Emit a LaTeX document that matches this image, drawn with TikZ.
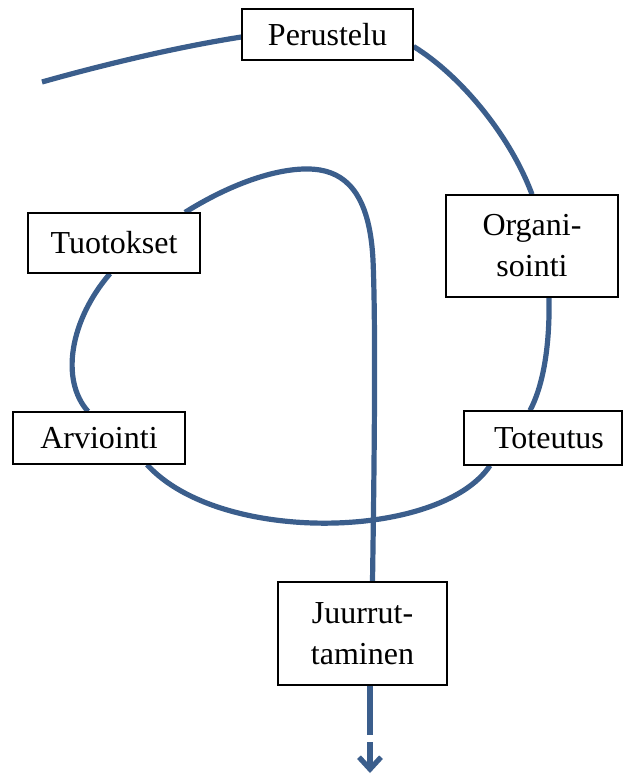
\documentclass[tikz,border=0pt]{standalone}
\usepackage{fontspec}
\setmainfont{Liberation Serif}
\usetikzlibrary{arrows.meta}
\definecolor{loopblue}{RGB}{59,94,140}
\pgfdeclarelayer{background}
\pgfsetlayers{background,main}
\begin{document}
\begin{tikzpicture}[x=0.5pt,y=-0.5pt,
  stage/.style={draw=black, line width=0.6pt, fill=white, inner sep=0pt,
    align=center, font=\fontsize{16}{20.5}\selectfont},
  loopline/.style={draw=loopblue, line width=2.6pt}]
\useasboundingbox (0,0) rectangle (625,775);

% stages
\node[stage, minimum width=85.5pt, minimum height=25.5pt] (perus) at (327.5,34.5) {Perustelu};
\node[stage, minimum width=86pt, minimum height=30pt] (tuot) at (114,243) {Tuotokset};
\node[stage, minimum width=86pt, minimum height=51pt] (org) at (532,246) {Organi-\\sointi};
\node[stage, minimum width=86pt, minimum height=26pt] (arv) at (99,438) {Arviointi};
\node[stage, minimum width=79pt, minimum height=27pt] (tot) at (543,438) {\hspace{6pt}Toteutus};
\node[stage, minimum width=84.5pt, minimum height=51.5pt] (juur) at (362.5,633.5) {Juurrut-\\taminen};

% loose ends of the spiral
\coordinate (start) at (42,82);
\coordinate (peak) at (320,170);
\coordinate (gapTop) at (370,735);
\coordinate (tipStart) at (370,742);
\coordinate (tip) at (370,773);

\begin{pgfonlayer}{background}
\draw[loopline] (start) .. controls (120,60) and (190,45) .. ([yshift=-1.25pt]perus.west);
\draw[loopline] ([yshift=-6pt]perus.east) .. controls (460,75) and (510,135) .. (org.north);
\draw[loopline] ([xshift=8.5pt]org.south) .. controls (550,350) and (542,388) .. ([xshift=-6.5pt]tot.north);
\draw[loopline] ([xshift=-26.5pt]tot.south) .. controls (440,540) and (220,545) .. ([xshift=24pt]arv.south);
\draw[loopline] ([xshift=-5.5pt]arv.north) .. controls (60,380) and (70,320) .. ([xshift=-2pt]tuot.south);
\draw[loopline] ([xshift=35.5pt]tuot.north) .. controls (240,178) and (290,165) .. (peak)
  .. controls (350,175) and (370,200) .. (373,260)
  .. controls (376,330) and (374,480) .. ([xshift=5pt]juur.north);
\draw[loopline] ([xshift=3.75pt]juur.south) -- (gapTop);
\draw[loopline, -{Straight Barb[length=6pt,width=11pt]}] (tipStart) -- (tip);
\end{pgfonlayer}
\end{tikzpicture}
\end{document}
